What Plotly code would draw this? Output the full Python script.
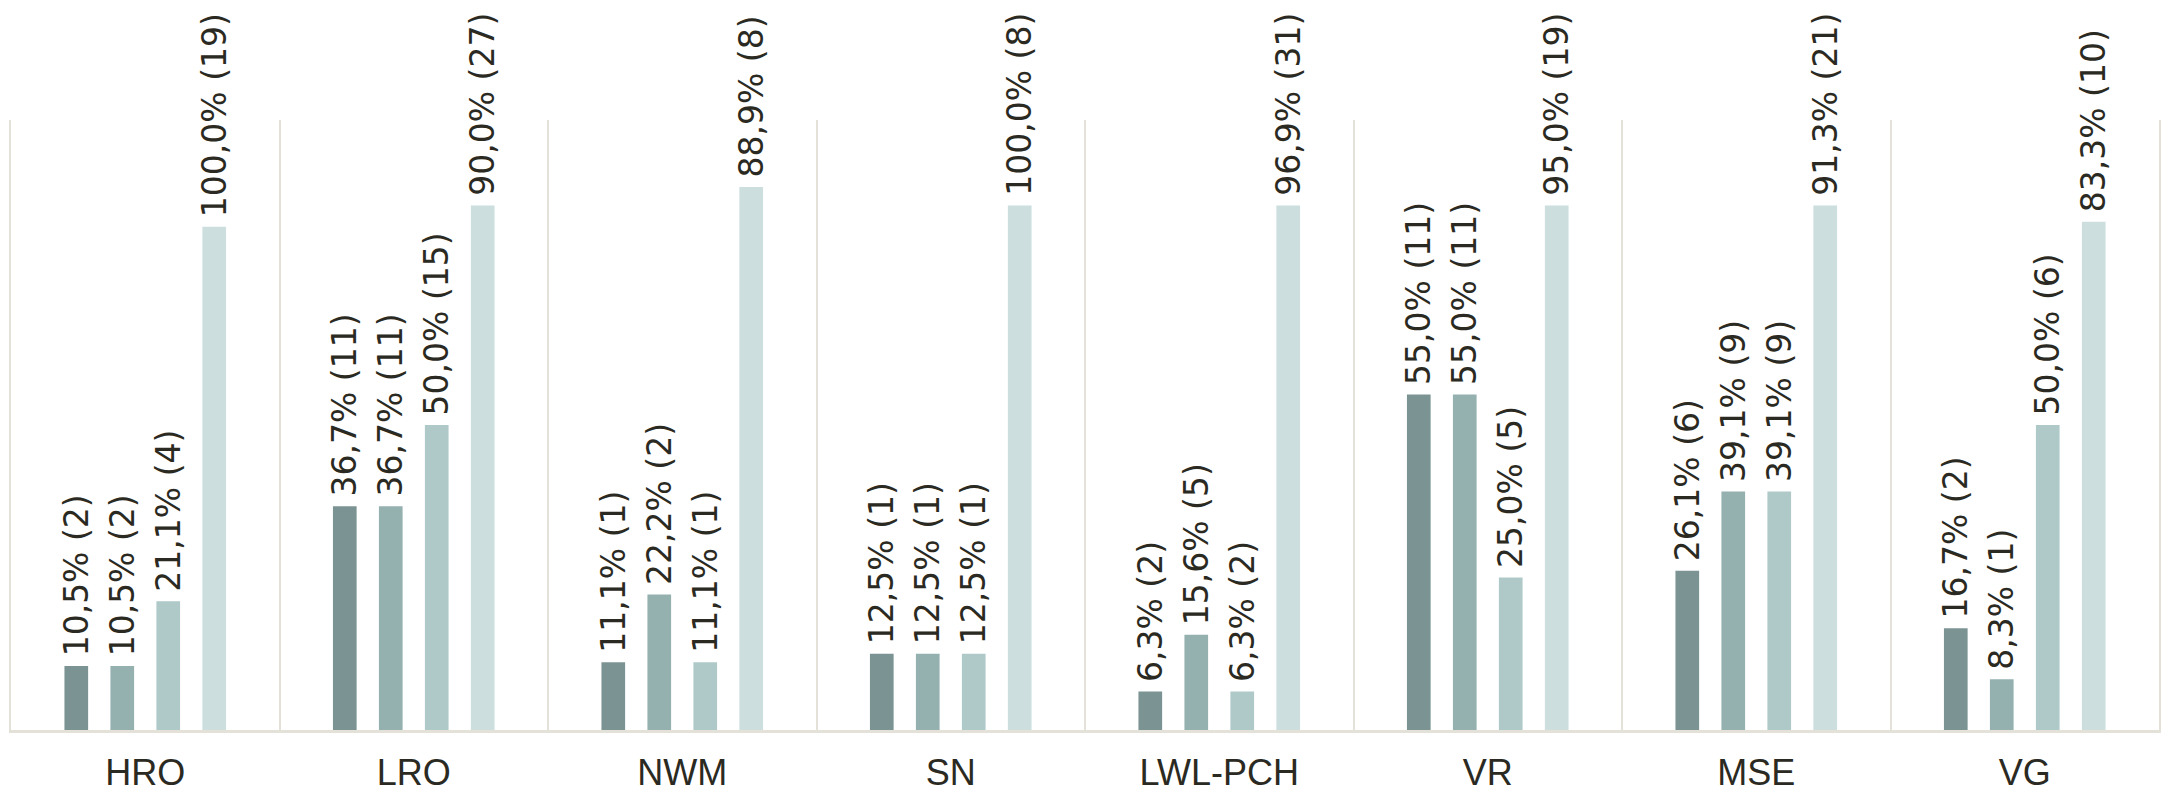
import plotly.graph_objects as go

categories = ["HRO", "LRO", "NWM", "SN", "LWL-PCH", "VR", "MSE", "VG"]

s1_pct = [10.5, 36.7, 11.1, 12.5, 6.3, 55.0, 26.1, 16.7]
s1_n = [2, 11, 1, 1, 2, 11, 6, 2]
s2_pct = [10.5, 36.7, 22.2, 12.5, 15.6, 55.0, 39.1, 8.3]
s2_n = [2, 11, 2, 1, 5, 11, 9, 1]
s3_pct = [21.1, 50.0, 11.1, 12.5, 6.3, 25.0, 39.1, 50.0]
s3_n = [4, 15, 1, 1, 2, 5, 9, 6]
s4_pct = [100.0, 90.0, 88.9, 100.0, 96.9, 95.0, 91.3, 83.3]
s4_n = [19, 27, 8, 8, 31, 19, 21, 10]
# heights of the fourth bars as drawn in the picture
s4_height = [82.5, 86.0, 89.0, 86.0, 86.0, 86.0, 86.0, 83.3]

colors = ["#7b9493", "#94b1b0", "#afc9c9", "#ccdede"]
text_color = "#2b2a22"
line_color = "#e4e1d9"


def labels(pcts, ns):
    return [f"{p:.1f}".replace(".", ",") + f"% ({n})" for p, n in zip(pcts, ns)]


series = [
    (s1_pct, labels(s1_pct, s1_n)),
    (s2_pct, labels(s2_pct, s2_n)),
    (s3_pct, labels(s3_pct, s3_n)),
    (s4_height, labels(s4_pct, s4_n)),
]

fig = go.Figure()
for (vals, txt), col in zip(series, colors):
    fig.add_trace(go.Bar(
        x=categories, y=vals, text=txt,
        texttemplate="\u2009%{text}",
        marker=dict(color=col, line=dict(width=0)),
        textposition="outside", textangle=-90,
        constraintext="none", cliponaxis=False,
        textfont=dict(family="DejaVu Sans", size=33, color=text_color),
        hoverinfo="skip",
    ))

fig.update_layout(
    width=2161, height=796,
    margin=dict(l=11, r=2, t=120, b=66),
    barmode="group", bargap=0.315, bargroupgap=0.485,
    showlegend=False,
    plot_bgcolor="white", paper_bgcolor="white",
    xaxis=dict(
        tickson="boundaries", showgrid=True, gridcolor=line_color, gridwidth=2,
        showline=True, linecolor=line_color, linewidth=3,
        ticks="", ticklabelstandoff=9, automargin=False,
        tickfont=dict(family="Liberation Sans Narrow, Liberation Sans", size=36, color=text_color),
    ),
    yaxis=dict(
        range=[0, 100], showgrid=False, zeroline=False, showticklabels=False,
        showline=True, mirror=True, linecolor=line_color, linewidth=2,
        automargin=False,
    ),
)

fig.write_html(
    "out.html",
    config={"displayModeBar": False},
    post_script="document.body.style.margin='0';document.body.style.overflow='hidden';",
)
